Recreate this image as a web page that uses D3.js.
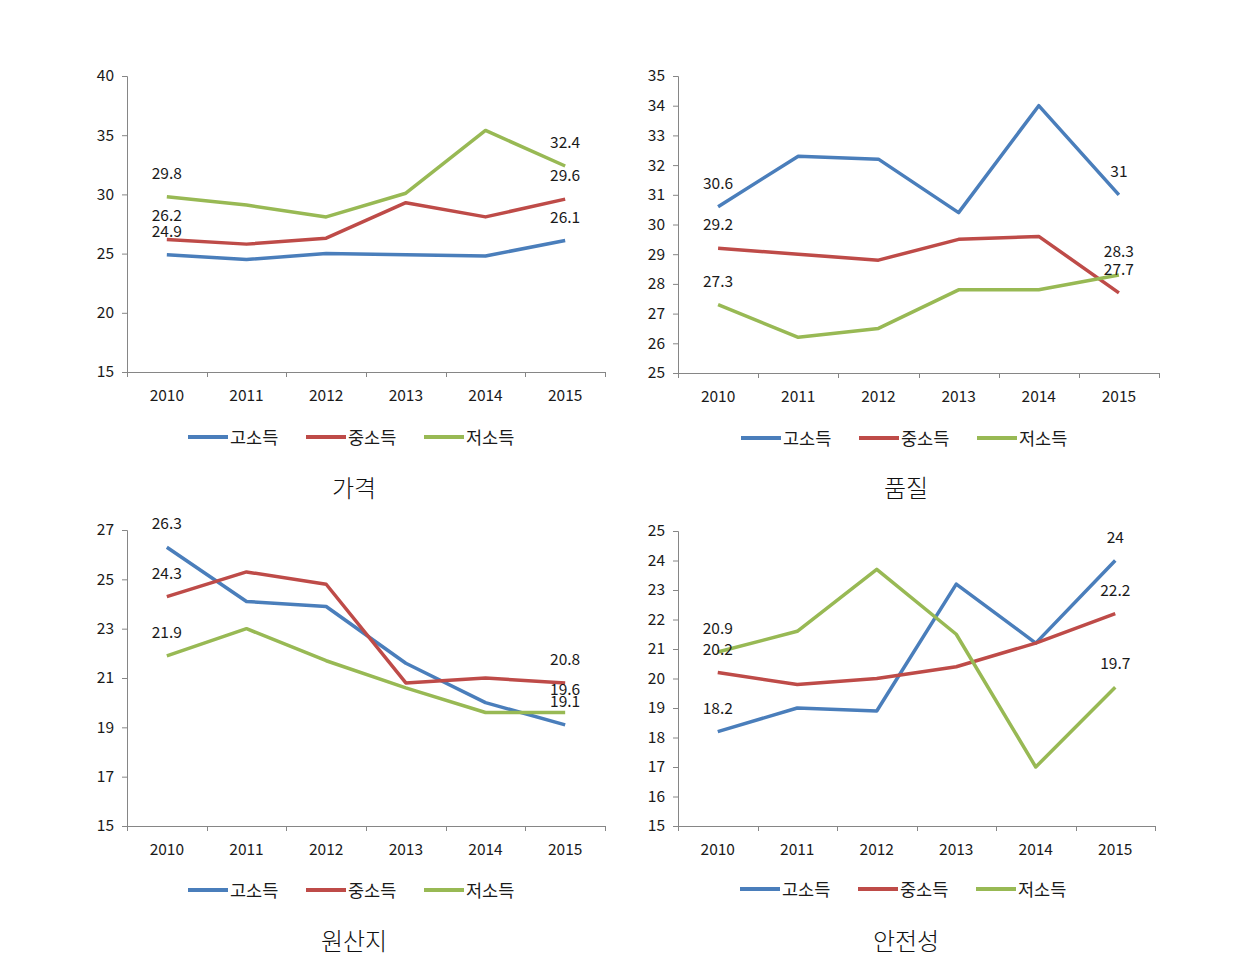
<!DOCTYPE html>
<html><head><meta charset="utf-8">
<script src="https://cdn.jsdelivr.net/npm/d3@7"></script>
<style>body{margin:0;background:#fff}svg{display:block}</style>
</head><body>
<svg id="c" width="1244" height="970"></svg>
<script>
const years = ["2010","2011","2012","2013","2014","2015"];
const seriesNames = ["고소득","중소득","저소득"];
const colors = ["#4a7ebb","#be4b48","#98b954"];
const titles = ["가격","품질","원산지","안전성"];

const priceHigh = [24.9,24.5,25.0,24.9,24.8,26.1];
const priceMid  = [26.2,25.8,26.3,29.3,28.1,29.6];
const priceLow  = [29.8,29.1,28.1,30.1,35.4,32.4];

const qualHigh = [30.6,32.3,32.2,30.4,34.0,31];
const qualMid  = [29.2,29.0,28.8,29.5,29.6,27.7];
const qualLow  = [27.3,26.2,26.5,27.8,27.8,28.3];

const origHigh = [26.3,24.1,23.9,21.6,20.0,19.1];
const origMid  = [24.3,25.3,24.8,20.8,21.0,20.8];
const origLow  = [21.9,23.0,21.7,20.6,19.6,19.6];

const safeHigh = [18.2,19.0,18.9,23.2,21.2,24];
const safeMid  = [20.2,19.8,20.0,20.4,21.2,22.2];
const safeLow  = [20.9,21.6,23.7,21.5,17.0,19.7];

const yTicks1 = [15,20,25,30,35,40];
const yTicks2 = [25,26,27,28,29,30,31,32,33,34,35];
const yTicks3 = [15,17,19,21,23,25,27];
const yTicks4 = [15,16,17,18,19,20,21,22,23,24,25];

const panels = [
  {title:titles[0], series:[priceHigh,priceMid,priceLow], ticks:yTicks1, box:[127,605,76,372], legendX:188, titleX:354, legendY:437, titleY:488},
  {title:titles[1], series:[qualHigh,qualMid,qualLow], ticks:yTicks2, box:[678,1159,76,373], legendX:741, titleX:906, legendY:438, titleY:488},
  {title:titles[2], series:[origHigh,origMid,origLow], ticks:yTicks3, box:[127,605,530,826], legendX:188, titleX:354, legendY:890, titleY:941},
  {title:titles[3], series:[safeHigh,safeMid,safeLow], ticks:yTicks4, box:[678,1155,531,826], legendX:740, titleX:906, legendY:889, titleY:941}
];

const svg = d3.select("#c");
const font = "'Noto Sans CJK KR', 'Open Sans', sans-serif";
const axisColor = "#868686";
const txt = "#1a1a1a";

panels.forEach(p => {
  const [x0,x1,y0,y1] = p.box;
  const x = d3.scaleBand().domain(years).range([x0,x1]);
  const y = d3.scaleLinear().domain([p.ticks[0], p.ticks[p.ticks.length-1]]).range([y1,y0]);
  const g = svg.append("g");

  // y axis
  const ya = g.append("g").attr("transform",`translate(${x0},0)`)
    .call(d3.axisLeft(y).tickValues(p.ticks).tickSize(5).tickPadding(8).tickFormat(d3.format("d")));
  ya.select(".domain").attr("stroke",axisColor);
  ya.selectAll(".tick line").attr("stroke",axisColor);
  ya.selectAll("text").attr("font-family",font).attr("font-size",15.5).attr("fill",txt);

  // x axis
  const xa = g.append("g").attr("transform",`translate(0,${y1})`)
    .call(d3.axisBottom(x).tickSize(0).tickPadding(18));
  xa.select(".domain").attr("stroke",axisColor).attr("d",`M${x0},0.5H${x1}`);
  xa.selectAll("text").attr("font-family",font).attr("font-size",15.5).attr("fill",txt);
  const bounds = years.map(d=>x(d)).concat([x1]);
  g.selectAll(".xt").data(bounds).enter().append("line")
    .attr("x1",d=>Math.round(d)+0.5).attr("x2",d=>Math.round(d)+0.5)
    .attr("y1",y1).attr("y2",y1+5).attr("stroke",axisColor);

  const line = d3.line().x((d,i)=>x(years[i])+x.bandwidth()/2).y(d=>y(d));
  p.series.forEach((s,k)=>{
    g.append("path").datum(s).attr("d",line).attr("fill","none")
      .attr("stroke",colors[k]).attr("stroke-width",3.5).attr("stroke-linejoin","round");
  });
  // data labels (first and last)
  p.series.forEach((s,k)=>{
    [0,s.length-1].forEach(i=>{
      g.append("text").attr("x",x(years[i])+x.bandwidth()/2).attr("y",y(s[i])-18)
        .attr("text-anchor","middle").attr("font-family",font).attr("font-size",15.5)
        .attr("fill",txt).text(s[i]);
    });
  });

  // legend
  const lg = g.append("g").attr("transform",`translate(${p.legendX},${p.legendY})`);
  seriesNames.forEach((n,k)=>{
    const off = k*118;
    lg.append("line").attr("x1",off).attr("x2",off+40).attr("y1",0).attr("y2",0)
      .attr("stroke",colors[k]).attr("stroke-width",4);
    lg.append("text").attr("x",off+42).attr("y",6.5).attr("font-family",font)
      .attr("font-size",17.5).attr("fill",txt).text(n);
  });

  // title
  g.append("text").attr("x",p.titleX).attr("y",p.titleY+9).attr("text-anchor","middle")
    .attr("font-family",font).attr("font-size",24).attr("font-weight",300).attr("fill","#111").text(p.title);
});
</script>
</body></html>
